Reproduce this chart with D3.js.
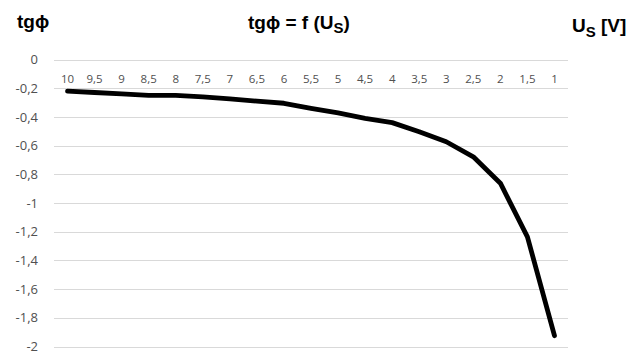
<!DOCTYPE html>
<html>
<head>
<meta charset="utf-8">
<script src="https://cdn.jsdelivr.net/npm/d3@7"></script>
<style>
  body { margin: 0; background: #fff; }
  text { font-family: "Open Sans", "Liberation Sans", sans-serif; }
  .ttl { font-family: "Liberation Sans", Arial, sans-serif; font-weight: bold; fill: #000; }
</style>
</head>
<body>
<div id="chart"></div>
<script>
// U_S values (categories, in the order shown)
var voltages = ["10", "9,5", "9", "8,5", "8", "7,5", "7", "6,5", "6", "5,5", "5", "4,5", "4", "3,5", "3", "2,5", "2", "1,5", "1"];
// tg phi readings
var tgPhi = [-0.22, -0.23, -0.24, -0.25, -0.25, -0.26, -0.275, -0.29, -0.305, -0.34, -0.372, -0.41, -0.44, -0.503, -0.573, -0.678, -0.862, -1.236, -1.925];
var yTicks = [0, -0.2, -0.4, -0.6, -0.8, -1, -1.2, -1.4, -1.6, -1.8, -2];

var width = 633, height = 356;
var margin = { top: 59, right: 65, bottom: 9, left: 54 };

var svg = d3.select("#chart").append("svg")
    .attr("width", width)
    .attr("height", height);

var x = d3.scaleBand()
    .domain(voltages)
    .range([margin.left, width - margin.right]);

var y = d3.scaleLinear()
    .domain([0, -2])
    .range([margin.top + 0.5, height - margin.bottom - 0.5]);

// comma decimals, plain hyphen for minus
var fmt = function(d) { return String(d).replace(".", ","); };

// gridlines
svg.append("g")
  .selectAll("line")
  .data(yTicks)
  .enter().append("line")
    .attr("x1", margin.left)
    .attr("x2", width - margin.right)
    .attr("y1", d => Math.round(y(d)) + 0.5)
    .attr("y2", d => Math.round(y(d)) + 0.5)
    .attr("stroke", "#d9d9d9")
    .attr("stroke-width", 1);

// y labels
var yAxis = d3.axisLeft(y).tickValues(yTicks).tickFormat(fmt).tickSize(0).tickPadding(0);
svg.append("g")
    .attr("transform", "translate(" + (margin.left - 16) + ",0)")
    .call(yAxis)
    .call(g => g.select(".domain").remove())
    .selectAll("text")
      .attr("fill", "#505050")
      .style("font-size", "13px");

// category labels sitting below the zero line
var xAxis = d3.axisTop(x).tickSize(0).tickPadding(0);
svg.append("g")
    .attr("transform", "translate(0," + (y(0) + 23) + ")")
    .call(xAxis)
    .call(g => g.select(".domain").remove())
    .selectAll("text")
      .attr("fill", "#505050")
      .style("font-size", "11.5px");

// series line
var line = d3.line()
    .x((d, i) => x(voltages[i]) + x.bandwidth() / 2)
    .y(d => y(d));

svg.append("path")
    .datum(tgPhi)
    .attr("fill", "none")
    .attr("stroke", "#000")
    .attr("stroke-width", 4.8)
    .attr("stroke-linejoin", "round")
    .attr("stroke-linecap", "round")
    .attr("d", line);

// titles
svg.append("text").attr("class", "ttl")
    .attr("x", 17).attr("y", 28)
    .style("font-size", "19px")
    .text("tgϕ");

var t = svg.append("text").attr("class", "ttl")
    .attr("x", 248).attr("y", 29)
    .style("font-size", "19px");
t.append("tspan").text("tgϕ = f (U");
t.append("tspan").attr("dy", 4).style("font-size", "15px").text("S");
t.append("tspan").attr("dy", -4).text(")");

var u = svg.append("text").attr("class", "ttl")
    .attr("x", 572).attr("y", 32)
    .style("font-size", "19px");
u.append("tspan").text("U");
u.append("tspan").attr("dy", 5).style("font-size", "15px").text("S");
u.append("tspan").attr("dy", -5).text(" [V]");
</script>
</body>
</html>
